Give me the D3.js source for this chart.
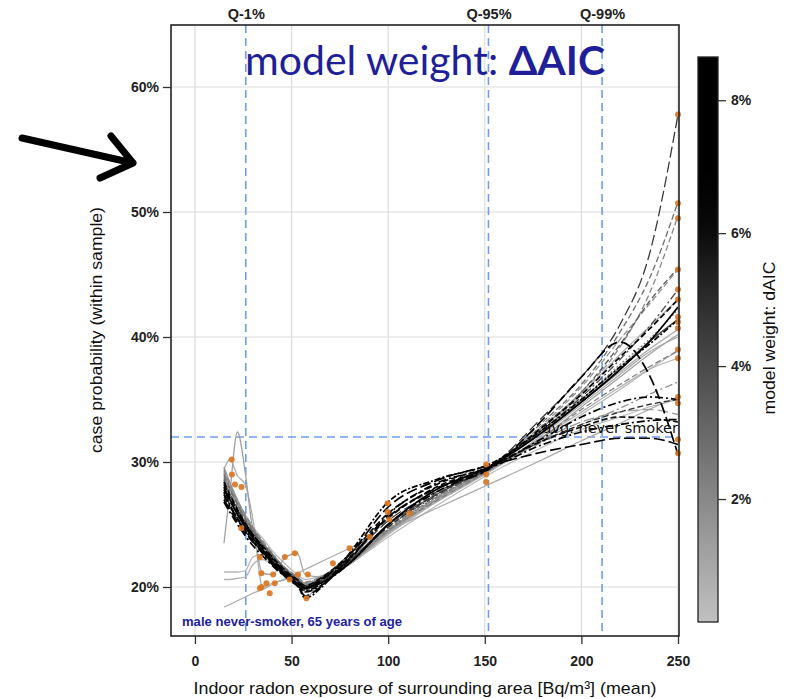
<!DOCTYPE html>
<html>
<head>
<meta charset="utf-8">
<script src="https://cdn.jsdelivr.net/npm/d3@7"></script>
<style>
  html, body { margin: 0; padding: 0; background: #fff; }
  svg { display: block; }
</style>
</head>
<body>
<script>
// ---------------- DATA ----------------
const xKnots = [15, 18, 22, 26, 30, 35, 40, 47, 53, 57, 65, 80, 100, 125, 152, 180, 200, 220, 235, 250];

// predicted case probability (%) of each candidate model at the knots
const modelCurves = [
  [28.0, 27.0, 25.8, 24.8, 23.9, 23.0, 22.0, 21.0, 20.3, 19.9, 20.3, 21.9, 25.0, 27.8, 29.6, 32.4, 34.8, 37.4, 39.6, 42.4],
  [27.4, 26.5, 25.4, 24.4, 23.6, 22.7, 21.8, 20.8, 20.1, 19.6, 20.1, 22.2, 25.8, 28.3, 29.5, 31.4, 32.4, 33.0, 33.3, 33.4],
  [27.8, 26.9, 25.9, 25.0, 24.1, 23.1, 22.2, 21.1, 20.4, 19.9, 20.5, 22.6, 26.4, 28.5, 29.7, 30.8, 31.4, 31.9, 31.9, 31.4],
  [27.0, 26.2, 25.2, 24.3, 23.6, 22.8, 21.9, 20.9, 20.1, 19.3, 20.0, 22.3, 25.6, 27.9, 29.4, 33.4, 36.8, 39.6, 37.0, 30.6],
  [28.4, 27.4, 26.2, 25.1, 24.2, 23.2, 22.3, 21.2, 20.5, 20.0, 20.6, 22.4, 25.5, 28.0, 29.6, 32.8, 35.4, 38.4, 40.6, 43.0],
  [26.8, 26.0, 25.0, 24.1, 23.3, 22.5, 21.7, 20.8, 20.1, 19.7, 20.2, 21.9, 25.0, 27.6, 29.5, 31.9, 33.6, 34.8, 35.2, 35.0],
  [27.6, 26.6, 25.5, 24.6, 23.7, 22.8, 21.9, 20.9, 20.2, 19.1, 19.9, 22.7, 26.8, 28.6, 29.8, 32.6, 35.0, 37.6, 39.4, 41.4],
  [28.2, 27.2, 26.1, 25.1, 24.2, 23.3, 22.4, 21.3, 20.6, 20.1, 20.7, 22.6, 25.9, 28.2, 29.6, 31.7, 32.8, 33.6, 33.5, 33.2],
  [27.5, 26.6, 25.5, 24.5, 23.7, 22.8, 21.9, 20.9, 20.3, 19.9, 20.4, 22.3, 25.3, 27.6, 29.5, 33.6, 36.8, 41.0, 46.5, 57.8],
  [28.6, 27.5, 26.3, 25.3, 24.4, 23.4, 22.5, 21.4, 20.6, 20.1, 20.7, 22.6, 25.6, 27.8, 29.5, 32.9, 35.6, 39.4, 42.8, 45.5],
  [29.0, 27.9, 26.6, 25.5, 24.6, 23.5, 22.6, 21.3, 20.5, 20.0, 20.5, 22.2, 24.9, 27.5, 29.6, 33.2, 36.2, 40.4, 44.6, 50.8],
  [29.4, 28.2, 26.9, 25.8, 24.8, 23.7, 22.7, 21.4, 20.6, 20.2, 20.7, 22.2, 24.7, 27.2, 29.4, 32.8, 35.6, 39.2, 43.4, 49.7],
  [27.9, 27.0, 25.9, 24.9, 24.0, 23.0, 22.1, 21.0, 20.3, 19.8, 20.4, 22.1, 25.0, 27.4, 29.6, 32.4, 34.8, 37.4, 39.6, 41.4],
  [28.3, 27.3, 26.1, 25.1, 24.2, 23.2, 22.2, 21.0, 20.2, 19.7, 20.3, 22.0, 24.8, 27.3, 29.5, 32.6, 35.2, 38.2, 40.8, 43.8],
  [27.2, 26.4, 25.4, 24.5, 23.7, 22.9, 22.0, 21.1, 20.5, 20.0, 20.5, 22.1, 24.8, 27.4, 29.5, 31.7, 33.0, 34.0, 34.6, 35.0],
  [29.6, 28.4, 27.0, 25.7, 24.6, 23.4, 22.4, 21.2, 20.6, 20.2, 20.6, 21.9, 24.4, 27.0, 29.3, 32.6, 35.0, 37.6, 39.6, 41.4],
  [29.2, 28.1, 26.8, 25.6, 24.5, 21.1, 21.0, 22.4, 22.7, 21.0, 20.8, 22.4, 24.4, 27.0, 29.4, 32.4, 34.8, 37.2, 39.0, 40.6],
  [29.4, 30.2, 28.9, 28.2, 25.4, 20.0, 20.3, 20.6, 21.0, 19.1, 20.5, 21.8, 24.2, 26.8, 29.2, 32.2, 34.6, 37.0, 38.8, 40.0],
  [23.5, 27.5, 32.4, 29.2, 24.6, 23.2, 22.2, 21.1, 20.5, 20.1, 20.5, 21.9, 24.5, 27.0, 29.3, 32.0, 34.4, 36.8, 38.6, 40.2],
  [18.4, 18.6, 18.9, 19.2, 19.5, 19.8, 20.2, 20.7, 21.1, 21.4, 22.0, 23.1, 24.5, 26.3, 28.2, 30.2, 31.7, 33.1, 34.2, 35.2],
  [21.2, 21.2, 21.2, 21.3, 22.4, 22.6, 22.0, 21.2, 20.6, 20.3, 20.6, 22.0, 24.4, 26.8, 29.2, 31.8, 33.8, 35.8, 37.4, 38.9],
  [20.6, 20.6, 20.7, 20.8, 21.8, 22.2, 21.8, 21.0, 20.5, 20.2, 20.5, 21.8, 24.3, 26.9, 29.3, 32.0, 34.0, 36.0, 37.4, 38.3],
  [28.8, 27.8, 26.6, 25.5, 24.6, 23.5, 22.6, 21.5, 20.8, 20.4, 20.8, 22.0, 24.5, 26.9, 29.3, 32.0, 34.2, 36.2, 37.6, 38.9],
  [28.5, 27.5, 26.4, 25.4, 24.5, 23.6, 22.7, 21.4, 20.7, 20.3, 20.8, 22.1, 24.6, 27.1, 29.4, 31.6, 33.0, 34.3, 35.4, 36.4],
  [29.0, 28.0, 26.8, 25.8, 24.8, 23.9, 22.9, 21.8, 21.0, 20.6, 20.9, 21.9, 24.0, 26.5, 29.0, 31.2, 32.6, 33.6, 34.4, 35.0],
  [29.1, 28.0, 26.7, 25.6, 24.6, 23.5, 22.5, 21.3, 20.6, 20.2, 20.6, 21.9, 24.5, 27.1, 29.5, 33.0, 36.0, 39.8, 42.6, 45.4],
  [28.9, 27.9, 26.6, 25.6, 24.6, 23.6, 22.6, 21.5, 20.8, 20.3, 20.7, 21.9, 24.3, 26.9, 29.4, 32.8, 35.4, 38.6, 40.8, 43.0],
  [28.7, 27.7, 26.5, 25.4, 24.5, 23.4, 22.4, 21.2, 20.5, 20.0, 20.6, 22.0, 24.6, 27.2, 29.5, 32.6, 35.0, 37.8, 39.8, 42.2],
  [29.3, 28.2, 26.9, 25.7, 24.7, 23.6, 22.6, 21.4, 20.7, 20.3, 20.7, 22.0, 24.4, 27.0, 29.4, 31.8, 33.2, 34.0, 34.2, 33.8]
];
// model weight (dAIC, %) of each model
const modelWeights = [8.3, 7.6, 7.0, 6.8, 6.2, 6.5, 7.8, 6.0, 4.5, 3.5, 2.8, 2.0, 4.2, 3.8, 4.8,
                      1.5, 1.0, 0.8, 1.2, 0.9, 0.5, 0.6, 2.2, 1.8, 0.4, 1.6, 0.7, 2.4, 1.3];
// model family (drawn with different line types)
const modelType = ["solid", "dashdot", "longdash", "longdash", "dash", "dashdot", "dotdash", "dash",
                   "longdash", "dash", "dash", "dash", "solid", "dashdot", "dash",
                   "solid", "solid", "solid", "solid", "solid", "solid", "solid", "dash", "dashdot",
                   "solid", "dash", "solid", "dotted", "longdash"];

// observed knot points (orange)
const knotX = [19, 19.1, 20.7, 24.1, 24.0, 33.6, 34.4, 34.4, 37, 41.3, 33.6, 40.5, 46.5, 51.7, 49, 53.3, 58.4, 57.7, 38.7, 71.4,
               80, 90.4, 99.7, 99.7, 100.7, 111, 150.7, 150.7, 150.7,
               250, 250, 250, 250, 250, 250, 250, 250, 250, 250, 250, 250, 250, 250, 250];
const knotY = [30.2, 29.0, 28.2, 28.0, 24.7, 22.4, 21.1, 20.0, 20.3, 20.3, 19.9, 21.0, 22.4, 22.7, 20.6, 21.0, 21.0, 19.1, 19.5, 21.9,
               23.1, 24.0, 26.7, 26.0, 25.4, 25.9, 29.8, 29.0, 28.4,
               57.8, 50.7, 49.5, 45.4, 43.8, 43.0, 41.6, 41.2, 40.7, 39.0, 38.3, 35.2, 34.7, 31.8, 30.7];

const xTicks = [0, 50, 100, 150, 200, 250];
const yTicks = [20, 30, 40, 50, 60];
const quantileLabels = ["Q-1%", "Q-95%", "Q-99%"];
const quantileValues = [26.3, 151.9, 210.7];
const avgNeverSmoker = 32.0;
const colorbarTicks = [2, 4, 6, 8];
const colorbarDomain = [0.15, 8.65];

// ---------------- CHART ----------------
const W = 788, H = 699;
const svg = d3.select("body").append("svg").attr("width", W).attr("height", H);
const pL = 171, pR = 679, pT = 25, pB = 636;

const x = d3.scaleLinear().domain([-12.4, 250]).range([pL, pR - 1]);
const y = d3.scaleLinear().domain([16.08, 64.96]).range([pB, pT]);
const gray = d3.scaleLinear().domain([0, 6.4]).range(["#c6c6c6", "#000000"]).clamp(true);
const dashes = { solid: null, dash: "6,3", longdash: "11,4", dashdot: "8,3,2,3", dotdash: "2,2,6,2", dotted: "2,2" };
const tickFont = "'Liberation Sans', Arial, sans-serif";

// gridlines
svg.append("g").selectAll("line").data(xTicks).join("line")
  .attr("x1", d => x(d)).attr("x2", d => x(d)).attr("y1", pT).attr("y2", pB)
  .attr("stroke", "#dcdcdc").attr("stroke-width", 1.2);
svg.append("g").selectAll("line").data(yTicks).join("line")
  .attr("x1", pL).attr("x2", pR).attr("y1", d => y(d)).attr("y2", d => y(d))
  .attr("stroke", "#dcdcdc").attr("stroke-width", 1.2);

// quantile & average reference lines
const blue = "#6d9cf0";
svg.append("g").selectAll("line").data(quantileValues).join("line")
  .attr("x1", d => x(d)).attr("x2", d => x(d)).attr("y1", pT).attr("y2", pB)
  .attr("stroke", blue).attr("stroke-width", 1.6).attr("stroke-dasharray", "8,5");
svg.append("line").attr("x1", pL).attr("x2", pR).attr("y1", y(avgNeverSmoker)).attr("y2", y(avgNeverSmoker))
  .attr("stroke", blue).attr("stroke-width", 1.6).attr("stroke-dasharray", "8,5");

// model curves (light first, dark on top)
const line = d3.line().x((d, i) => x(xKnots[i])).y(d => y(d)).curve(d3.curveMonotoneX);
const order = d3.range(modelCurves.length).sort((a, b) => modelWeights[a] - modelWeights[b]);
svg.append("g").selectAll("path").data(order).join("path")
  .attr("d", i => line(modelCurves[i]))
  .attr("fill", "none")
  .attr("stroke", i => gray(modelWeights[i]))
  .attr("stroke-width", i => modelWeights[i] > 5 ? 1.7 : 1.3)
  .attr("stroke-dasharray", i => dashes[modelType[i]]);

// knot points
svg.append("g").selectAll("circle").data(knotX).join("circle")
  .attr("cx", d => x(d)).attr("cy", (d, i) => y(knotY[i])).attr("r", 3)
  .attr("fill", "#d9741f").attr("fill-opacity", 0.9);

// avg never smoker label
svg.append("text").attr("x", pR - 1).attr("y", y(avgNeverSmoker) - 4)
  .attr("text-anchor", "end").attr("font-family", "'DejaVu Sans', sans-serif").attr("font-size", 14.5)
  .attr("fill", "#111").text("avg. never smoker");

// frame
svg.append("rect").attr("x", pL).attr("y", pT).attr("width", pR - pL).attr("height", pB - pT)
  .attr("fill", "none").attr("stroke", "#222").attr("stroke-width", 1.6);

// axes
const xAxis = svg.append("g").attr("transform", `translate(0,${pB})`)
  .call(d3.axisBottom(x).tickValues(xTicks).tickSize(8).tickPadding(12).tickFormat(d3.format("d")));
const yAxis = svg.append("g").attr("transform", `translate(${pL},0)`)
  .call(d3.axisLeft(y).tickValues(yTicks).tickSize(8).tickPadding(4).tickFormat(d => d + "%"));
const topAxis = svg.append("g").attr("transform", `translate(0,${pT})`)
  .call(d3.axisTop(x).tickValues(quantileValues).tickSize(0).tickPadding(6).tickFormat((d, i) => quantileLabels[i]));
[xAxis, yAxis].forEach(g => {
  g.select(".domain").remove();
  g.selectAll("line").attr("stroke", "#333").attr("stroke-width", 1.3);
  g.selectAll("text").attr("font-family", tickFont).attr("font-size", 14).attr("font-weight", "bold").attr("fill", "#222");
});
topAxis.select(".domain").remove();
topAxis.selectAll("text").attr("font-family", tickFont).attr("font-size", 14.5).attr("font-weight", "bold").attr("fill", "#222");

// axis titles
svg.append("text").attr("x", (pL + pR) / 2).attr("y", 694).attr("text-anchor", "middle")
  .attr("font-family", tickFont).attr("font-size", 17).attr("fill", "#111")
  .attr("textLength", 463).attr("lengthAdjust", "spacingAndGlyphs")
  .text("Indoor radon exposure of surrounding area [Bq/m³] (mean)");
svg.append("text").attr("transform", `translate(102,330) rotate(-90)`).attr("text-anchor", "middle")
  .attr("font-family", tickFont).attr("font-size", 16.5).attr("fill", "#111")
  .attr("textLength", 246).attr("lengthAdjust", "spacingAndGlyphs")
  .text("case probability (within sample)");

// subgroup label
svg.append("text").attr("x", 182).attr("y", 626).attr("font-family", tickFont).attr("font-size", 12.5)
  .attr("font-weight", "bold").attr("fill", "#22229a")
  .attr("textLength", 220).attr("lengthAdjust", "spacingAndGlyphs")
  .text("male never-smoker, 65 years of age");

// title
const title = svg.append("text").attr("x", 425).attr("y", 75).attr("text-anchor", "middle")
  .attr("font-family", "Lato, 'Open Sans', sans-serif").attr("font-size", 41).attr("fill", "#1f1f99");
title.append("tspan").text("model weight: ");
title.append("tspan").attr("font-weight", "bold").text("ΔAIC");

// colorbar
const cbX = 698, cbW = 20, cbTop = 57, cbBottom = 622;
const cy = d3.scaleLinear().domain(colorbarDomain).range([cbBottom, cbTop]);
const defs = svg.append("defs");
const grad = defs.append("linearGradient").attr("id", "cbgrad").attr("x1", 0).attr("x2", 0).attr("y1", 1).attr("y2", 0);
d3.range(0, 11).forEach(k => {
  const v = colorbarDomain[0] + (colorbarDomain[1] - colorbarDomain[0]) * k / 10;
  grad.append("stop").attr("offset", k / 10).attr("stop-color", gray(v));
});
svg.append("rect").attr("x", cbX).attr("y", cbTop).attr("width", cbW).attr("height", cbBottom - cbTop)
  .attr("fill", "url(#cbgrad)").attr("stroke", "#222").attr("stroke-width", 1.3);
const cbAxis = svg.append("g").attr("transform", `translate(${cbX + cbW},0)`)
  .call(d3.axisRight(cy).tickValues(colorbarTicks).tickSize(8).tickPadding(5).tickFormat(d => d + "%"));
cbAxis.select(".domain").remove();
cbAxis.selectAll("line").attr("stroke", "#333").attr("stroke-width", 1.3);
cbAxis.selectAll("text").attr("font-family", tickFont).attr("font-size", 14).attr("font-weight", "bold").attr("fill", "#222");
svg.append("text").attr("transform", `translate(775,338) rotate(-90)`).attr("text-anchor", "middle")
  .attr("font-family", tickFont).attr("font-size", 16).attr("fill", "#111")
  .attr("textLength", 153).attr("lengthAdjust", "spacingAndGlyphs")
  .text("model weight: dAIC");

// annotation arrow
svg.append("path").attr("d", "M22,138 L133,163 M111,136 L133,163 L100,178")
  .attr("fill", "none").attr("stroke", "#000").attr("stroke-width", 7)
  .attr("stroke-linecap", "round").attr("stroke-linejoin", "round");
</script>
</body>
</html>
